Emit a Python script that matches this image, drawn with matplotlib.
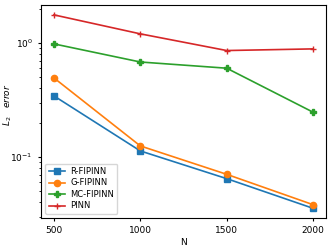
import matplotlib
matplotlib.use("Agg")
import matplotlib.pyplot as plt

N = [500, 1000, 1500, 2000]
r_fipinn = [0.343, 0.113, 0.0646, 0.0355]
g_fipinn = [0.493, 0.125, 0.0705, 0.0382]
mc_fipinn = [0.98, 0.68, 0.60, 0.247]
pinn = [1.76, 1.2, 0.857, 0.886]
xticks = [500, 1000, 1500, 2000]

fig = plt.figure(figsize=(3.32, 2.48), dpi=100)
ax = fig.add_axes([0.1235, 0.121, 0.8585, 0.859])
ax.plot(N, r_fipinn, marker='s', ms=4.5, lw=1.2, color='#1f77b4', label='R-FIPINN')
ax.plot(N, g_fipinn, marker='o', ms=4.5, lw=1.2, color='#ff7f0e', label='G-FIPINN')
ax.plot(N, mc_fipinn, marker='P', ms=4.5, lw=1.2, color='#2ca02c', label='MC-FIPINN')
ax.plot(N, pinn, marker='+', ms=5, lw=1.2, color='#d62728', label='PINN')
ax.set_yscale('log')
ax.set_ylim(0.0292, 2.15)
ax.set_xlim(425, 2075)
ax.set_xticks(xticks)
ax.tick_params(labelsize=6.5, length=2.5)
ax.tick_params(which='minor', length=1.5)
ax.set_xlabel('N', fontsize=6.5, labelpad=2)
ax.set_ylabel(r'$L_2 \quad error$', fontsize=6.5)
ax.yaxis.set_label_coords(-0.095, 0.53)
ax.legend(loc='lower left', fontsize=6, handlelength=2.0, borderpad=0.4,
          labelspacing=0.3, handletextpad=0.6)
fig.savefig('out.png', dpi=100)
